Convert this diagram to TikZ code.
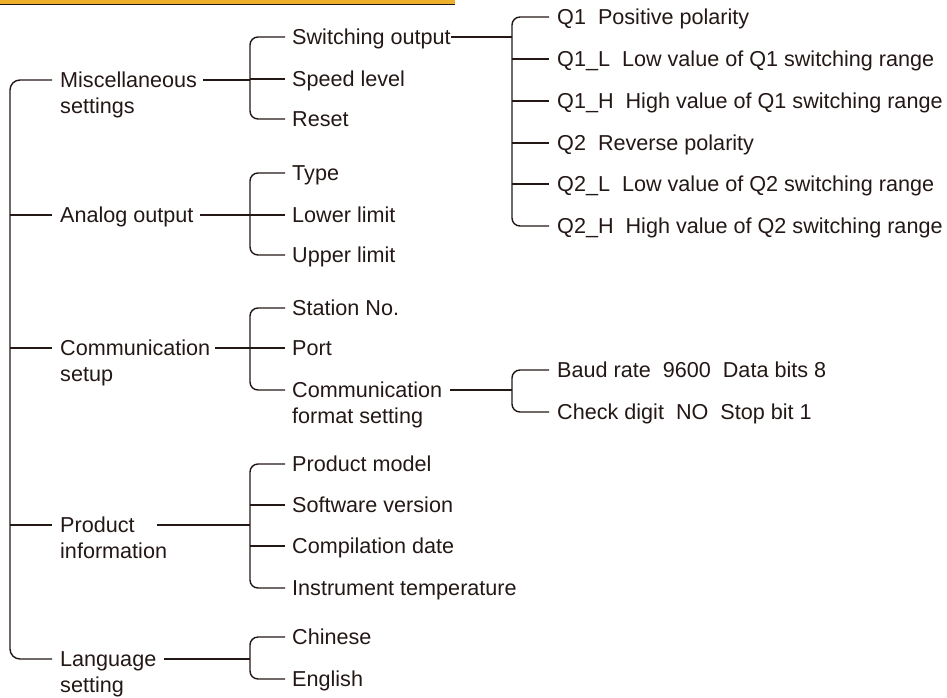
\documentclass[tikz,border=0pt]{standalone}
\usepackage{fontspec}
\setmainfont{Liberation Sans}
\definecolor{ink}{RGB}{35,24,21}
\definecolor{barfill}{RGB}{238,176,42}
\newcommand{\twol}[2]{\begin{tabular}[t]{@{}l@{}}#1\\#2\end{tabular}}
\begin{document}
\begin{tikzpicture}[x=1pt,y=-1pt,
  lbl/.style={anchor=west, inner sep=0pt, text height=15.5pt, text depth=0pt,
    font=\fontsize{21.6}{26}\selectfont, text=ink},
  conn/.style={draw=ink, line width=1.4pt, rounded corners=8pt}]
\useasboundingbox (0,0) rectangle (947,697);
% top bar
\fill[barfill] (0,0) rectangle (455,4);
\draw[ink, line width=1.2pt] (0,4.4) -- (455,4.4);
% bracket columns
\coordinate (t0) at (10,0);
\coordinate (b1) at (250,0);
\coordinate (b2) at (512,0);
% level 0
\node[lbl] (misc) at (60,80)  {\twol{Miscellaneous}{settings}};
\node[lbl] (ana)  at (60,215) {Analog output};
\node[lbl] (com)  at (60,348) {\twol{Communication}{setup}};
\node[lbl] (prod) at (60,525) {\twol{Product}{information}};
\node[lbl] (lang) at (60,659) {\twol{Language}{setting}};
% level 1
\node[lbl] (sw)   at (292,37)  {Switching output};
\node[lbl] (spd)  at (292,79)  {Speed level};
\node[lbl] (rst)  at (292,119) {Reset};
\node[lbl] (typ)  at (292,173) {Type};
\node[lbl] (low)  at (292,215) {Lower limit};
\node[lbl] (up)   at (292,255) {Upper limit};
\node[lbl] (sta)  at (292,308) {Station No.};
\node[lbl] (port) at (292,348) {Port};
\node[lbl] (cfs)  at (292,390) {\twol{Communication}{format setting}};
\node[lbl] (pm)   at (292,464) {Product model};
\node[lbl] (sv)   at (292,505) {Software version};
\node[lbl] (cd)   at (292,546) {Compilation date};
\node[lbl] (it)   at (292,588) {Instrument temperature};
\node[lbl] (chn)  at (292,637) {Chinese};
\node[lbl] (eng)  at (292,679) {English};
% level 2
\node[lbl] (q1)  at (557,17)  {Q1~~Positive polarity};
\node[lbl] (q1l) at (557,59)  {Q1\_L~~Low value of Q1 switching range};
\node[lbl] (q1h) at (557,101) {Q1\_H~~High value of Q1 switching range};
\node[lbl] (q2)  at (557,143) {Q2~~Reverse polarity};
\node[lbl] (q2l) at (557,184) {Q2\_L~~Low value of Q2 switching range};
\node[lbl] (q2h) at (557,226) {Q2\_H~~High value of Q2 switching range};
\node[lbl] (baud) at (557,370) {Baud rate~~9600~~Data bits 8};
\node[lbl] (chk)  at (557,412) {Check digit~~NO~~Stop bit 1};
% trunk
\draw[conn, rounded corners=10pt] ([xshift=-8]misc.west) -| (t0 |- lang.west) -- ([xshift=-8]lang.west);
\foreach \n in {ana,com,prod} \draw[conn] (t0 |- \n.west) -- ([xshift=-8]\n.west);
% level-0 to brackets
\draw[conn] ([xshift=6]misc.east) -- (b1 |- misc.east);
\draw[conn] ([xshift=6]ana.east) -- (b1 |- ana.east);
\draw[conn] ([xshift=5]com.east |- com.west) -- (b1 |- com.west);
\draw[conn] ([xshift=-10]prod.east) -- (b1 |- prod.east);
\draw[conn] ([xshift=7]lang.east |- lang.west) -- (b1 |- lang.west);
% level-1 brackets
\draw[conn] ([xshift=-7]sw.west) -| (b1 |- rst.west) -- ([xshift=-7]rst.west);
\draw[conn] (b1 |- spd.west) -- ([xshift=-7]spd.west);
\draw[conn] ([xshift=-7]typ.west) -| (b1 |- up.west) -- ([xshift=-7]up.west);
\draw[conn] (b1 |- low.west) -- ([xshift=-7]low.west);
\draw[conn] ([xshift=-7]sta.west) -| (b1 |- cfs.west) -- ([xshift=-7]cfs.west);
\draw[conn] (b1 |- port.west) -- ([xshift=-7]port.west);
\draw[conn] ([xshift=-7]pm.west) -| (b1 |- it.west) -- ([xshift=-7]it.west);
\foreach \n in {sv,cd} \draw[conn] (b1 |- \n.west) -- ([xshift=-7]\n.west);
\draw[conn] ([xshift=-7]chn.west) -| (b1 |- eng.west) -- ([xshift=-7]eng.west);
% level-1 to level-2 brackets
\draw[conn] (sw.east) -- (b2 |- sw.east);
\draw[conn] ([xshift=8]cfs.east |- cfs.west) -- (b2 |- cfs.west);
% level-2 brackets
\draw[conn] ([xshift=-8]q1.west) -| (b2 |- q2h.west) -- ([xshift=-8]q2h.west);
\foreach \n in {q1l,q1h,q2,q2l} \draw[conn] (b2 |- \n.west) -- ([xshift=-8]\n.west);
\draw[conn] ([xshift=-8]baud.west) -| (b2 |- chk.west) -- ([xshift=-8]chk.west);
\end{tikzpicture}
\end{document}
